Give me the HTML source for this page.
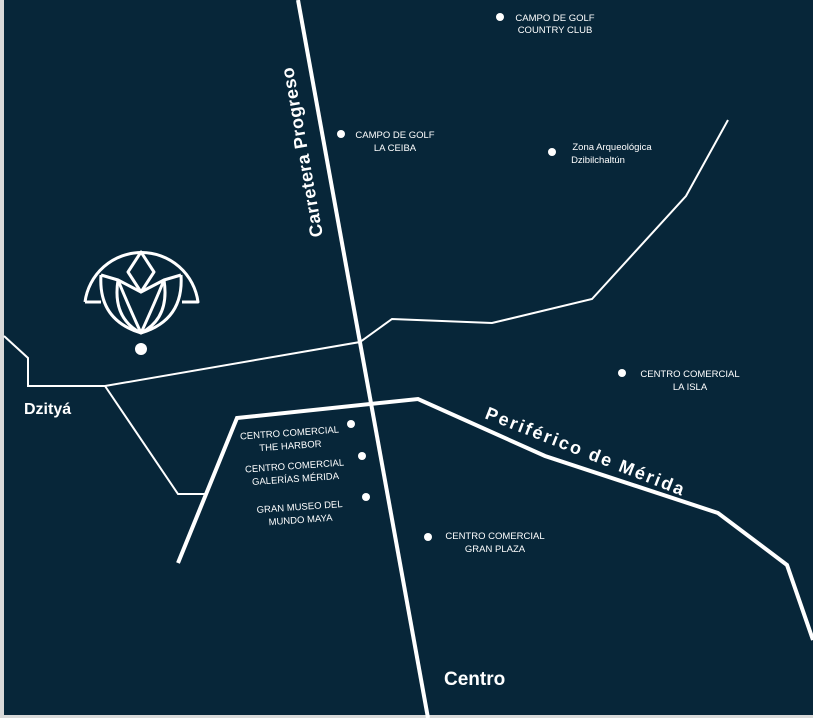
<!DOCTYPE html>
<html><head><meta charset="utf-8"><style>
html,body{margin:0;padding:0;background:#072639;}
svg{display:block}
text{font-family:"Liberation Sans",sans-serif;fill:#fff}
.s{font-size:9.5px}
</style></head><body>
<svg width="813" height="718" viewBox="0 0 813 718" xmlns="http://www.w3.org/2000/svg">
<rect width="813" height="718" fill="#072639"/>
<rect x="0" y="0" width="4" height="718" fill="#d9d9d9"/>
<rect x="0" y="715" width="813" height="3" fill="#d9d9d9"/>
<g fill="none" stroke="#fff" stroke-linejoin="miter">
<polyline stroke-width="2" points="4,336 28,358 28,386 105,386 360,342 392,319 492,323 592,299 686,196 728,120"/>
<polyline stroke-width="2" points="105,386 178,494 205,494"/>
<line stroke-width="4" x1="298" y1="0" x2="428" y2="718"/>
<polyline stroke-width="4" points="178,563 237,418 418,399 545,456 718,513 787,565 813,640"/>
</g>
<g fill="none" stroke="#fff" stroke-width="3" stroke-linejoin="round">
<path d="M85,302 A57,57 0 0 1 198,302 L182,302"/>
<path d="M85,302 L101,302"/>
<path d="M141,252 L128,272 L141,292 L154,272 Z"/>
<path d="M101,275 L118,280 L141,292 M181,275 L164,280 L141,292"/>
<path d="M101,275 Q98,320 141,333 Q126,300 118,280"/>
<path d="M181,275 Q184,320 141,333 Q156,300 164,280"/>
<path d="M141,333 Q112,318 118,280 M141,333 Q170,318 164,280"/>
</g>
<g fill="#fff">
<circle cx="141" cy="349" r="6"/>
<circle cx="500" cy="17" r="4"/>
<circle cx="341" cy="134" r="4"/>
<circle cx="552" cy="152" r="4"/>
<circle cx="622" cy="373" r="4"/>
<circle cx="351" cy="424" r="4"/>
<circle cx="362" cy="456" r="4"/>
<circle cx="366" cy="497" r="4"/>
<circle cx="428" cy="537" r="4"/>
</g>
<g class="s" text-anchor="middle">
<text x="555" y="21">CAMPO DE GOLF</text><text x="555" y="33">COUNTRY CLUB</text>
<text x="395" y="138">CAMPO DE GOLF</text><text x="395" y="151">LA CEIBA</text>
<text x="612" y="150">Zona Arqueológica</text><text x="598" y="163">Dzibilchaltún</text>
<text x="690" y="377">CENTRO COMERCIAL</text><text x="690" y="390">LA ISLA</text>
<text x="495" y="539">CENTRO COMERCIAL</text><text x="495" y="552">GRAN PLAZA</text>
<g transform="rotate(-4 290 440)"><text x="290" y="436">CENTRO COMERCIAL</text><text x="290" y="449">THE HARBOR</text></g>
<g transform="rotate(-4 295 472)"><text x="295" y="469">CENTRO COMERCIAL</text><text x="295" y="482">GALERÍAS MÉRIDA</text></g>
<g transform="rotate(-4 300 512)"><text x="300" y="510">GRAN MUSEO DEL</text><text x="300" y="523">MUNDO MAYA</text></g>
</g>
<text x="24" y="414" font-size="16" font-weight="bold">Dzityá</text>
<text x="444" y="685" font-size="19" font-weight="bold">Centro</text>
<text transform="translate(323,236) rotate(-100)" font-size="18" font-weight="bold" textLength="172" lengthAdjust="spacing">Carretera Progreso</text>
<text transform="translate(484,418) rotate(21.5)" font-size="18" font-weight="bold" textLength="212" lengthAdjust="spacing">Periférico de Mérida</text>
</svg>
</body></html>
